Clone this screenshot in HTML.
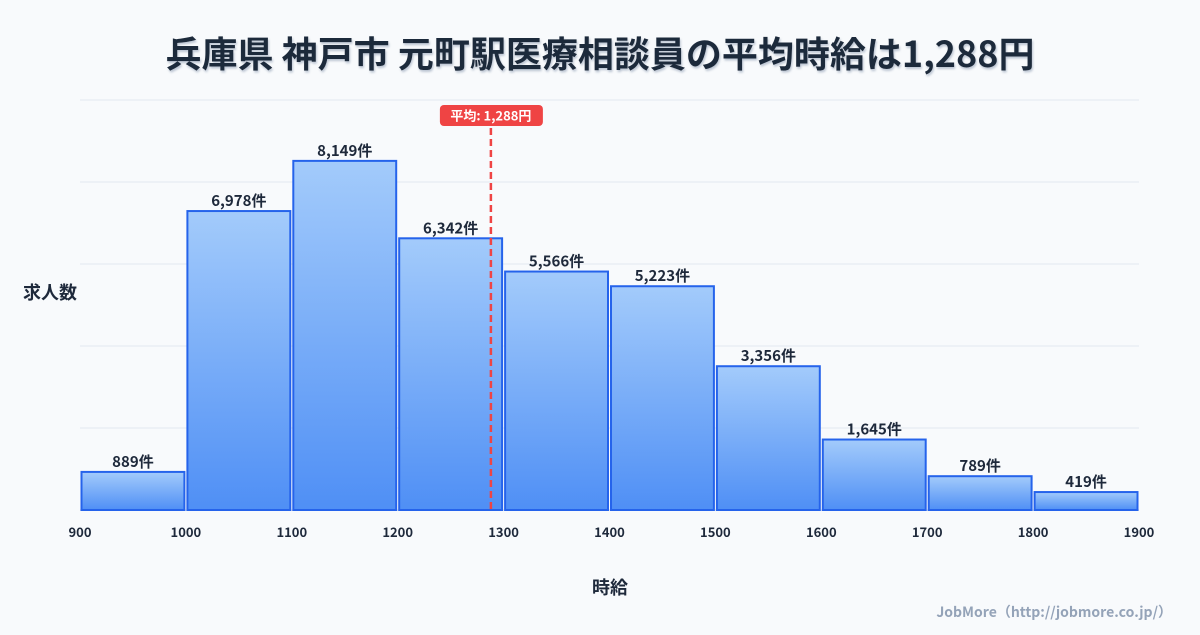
<!DOCTYPE html>
<html><head><meta charset="utf-8"><style>
html,body{margin:0;padding:0;background:#f8fafc;}
body{width:1200px;height:630px;overflow:hidden;font-family:"Noto Sans CJK JP","Liberation Sans",sans-serif;}
</style></head><body>
<svg id="chart" width="1200" height="630" xmlns="http://www.w3.org/2000/svg" style="font-family:'Noto Sans CJK JP','Liberation Sans',sans-serif">
<defs>
<linearGradient id="g" x1="0" y1="0" x2="0" y2="1"><stop offset="0" stop-color="#a3cbfb"/><stop offset="1" stop-color="#4f8ff5"/></linearGradient>
<filter id="sh"><feDropShadow dx="1" dy="2" stdDeviation="1" flood-color="#94a3b8" flood-opacity="0.6"/></filter>
</defs>
<text x="600" y="67" text-anchor="middle" font-size="36" font-weight="bold" fill="#1e293b" filter="url(#sh)">兵庫県 神戸市 元町駅医療相談員の平均時給は1,288円</text>
<g id="grid"></g><g id="bars"></g><g id="xt"></g>
<text x="50" y="299" text-anchor="middle" font-size="18" font-weight="bold" fill="#1e293b">求人数</text>
<text x="610" y="594" text-anchor="middle" font-size="18" font-weight="bold" fill="#1e293b">時給</text>
<text x="1172" y="617" text-anchor="end" font-size="14" font-weight="bold" fill="#94a3b8">JobMore（http://jobmore.co.jp/）</text>
</svg>
<script>
const binStarts=[900,1000,1100,1200,1300,1400,1500,1600,1700,1800];
const counts=[889,6978,8149,6342,5566,5223,3356,1645,789,419];
const xTicks=[900,1000,1100,1200,1300,1400,1500,1600,1700,1800,1900];
const avg=1288;
const yMax=9570,x0=80,x1=1139,y0=510,y1=100;
const sx=v=>x0+(v-900)/1000*(x1-x0);
const sy=v=>y0-v/yMax*(y0-y1);
const NS="http://www.w3.org/2000/svg";
function mk(p,t,a){const e=document.createElementNS(NS,t);for(const k in a)e.setAttribute(k,a[k]);document.getElementById(p).appendChild(e);return e;}
for(let i=0;i<=5;i++){const y=y0-i*(y0-y1)/5;
const l=mk('grid','line',{x1:x0,x2:x1,y1:y,y2:y,stroke:i==0?'#cbd5e1':'#e2e8f0','stroke-width':1});

}
binStarts.forEach((b,i)=>{const xa=sx(b)+1.5,xb=sx(b+100)-1.5,y=sy(counts[i]);
const r=mk('bars','rect',{x:xa,y:y,width:xb-xa,height:y0-y,fill:'url(#g)',stroke:'#2563eb','stroke-width':2});


const t=mk('bars','text',{x:(xa+xb)/2,y:y-5,'text-anchor':'middle','font-size':15,'font-weight':'bold',fill:'#1e293b'});
t.textContent=counts[i].toLocaleString('en-US')+'件';

});
xTicks.forEach(v=>{const t=mk('xt','text',{x:sx(v),y:537,'text-anchor':'middle','font-size':13,'font-weight':'bold',fill:'#1e293b'});
t.textContent=v;

});
const ax=sx(avg);
const al=mk('bars','line',{x1:ax,x2:ax,y1:128,y2:510,stroke:'#ef4444','stroke-width':2.5,'stroke-dasharray':'7,4'});


const ar=mk('bars','rect',{x:ax-51,y:105,width:103,height:21,rx:4,fill:'#ef4444'});


const at=mk('bars','text',{x:ax,y:120.5,'text-anchor':'middle','font-size':13,'font-weight':'bold',fill:'#fff'});
at.textContent='平均: '+avg.toLocaleString('en-US')+'円';


</script>
</body></html>
